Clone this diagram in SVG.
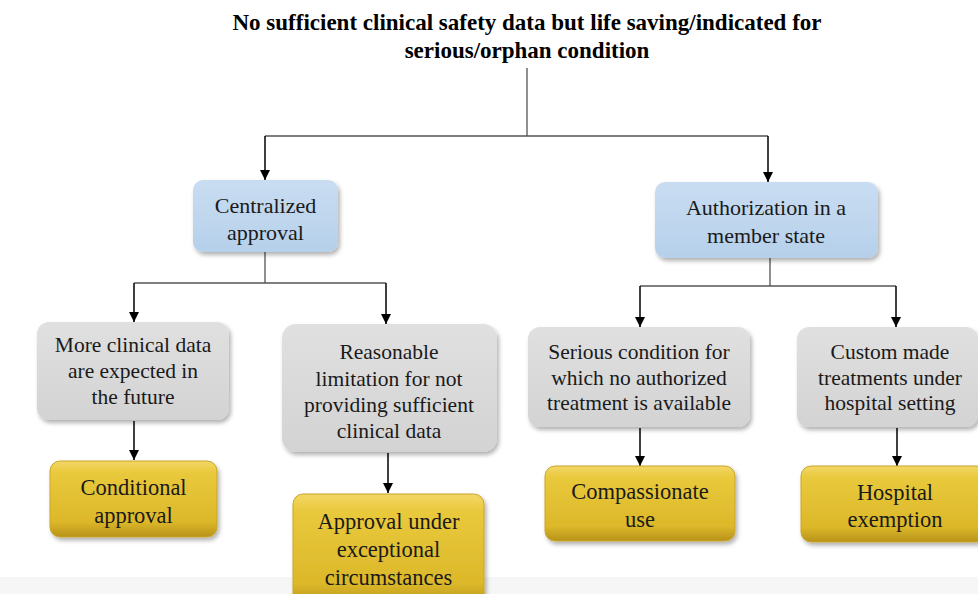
<svg xmlns="http://www.w3.org/2000/svg" width="978" height="594" viewBox="0 0 978 594">
<defs>
<filter id="sh" x="-10%" y="-10%" width="125%" height="130%">
<feDropShadow dx="2" dy="3" stdDeviation="2" flood-color="#000" flood-opacity="0.3"/>
</filter>
<linearGradient id="gBlue" x1="0" y1="0" x2="0" y2="1">
<stop offset="0" stop-color="#c9ddf2"/>
<stop offset="1" stop-color="#b6d0ea"/>
</linearGradient>
<linearGradient id="gGray" x1="0" y1="0" x2="0" y2="1">
<stop offset="0" stop-color="#e0e0e0"/>
<stop offset="1" stop-color="#d3d3d3"/>
</linearGradient>
<linearGradient id="gGold" x1="0" y1="0" x2="0" y2="1">
<stop offset="0" stop-color="#f3d767"/>
<stop offset="0.15" stop-color="#e9c93c"/>
<stop offset="0.8" stop-color="#dcb82a"/>
<stop offset="1" stop-color="#b8921a"/>
</linearGradient>
<marker id="arr" viewBox="0 0 10 10" refX="10" refY="5" markerWidth="10" markerHeight="10" markerUnits="userSpaceOnUse" orient="auto">
<path d="M0,0 L10,5 L0,10 z" fill="#000"/>
</marker>
</defs>
<style>
text{fill:#1a1a1a;text-anchor:middle;font-family:"Liberation Serif",serif}
.title{font-weight:bold;font-size:23px;fill:#000}
.blue{fill:url(#gBlue);filter:url(#sh)}
.gray{fill:url(#gGray);filter:url(#sh)}
.gold{fill:url(#gGold);stroke:#c9a52a;stroke-width:1;filter:url(#sh)}
.tb{font-size:22px}
.tg{font-size:21.5px}
.ty{font-size:22.5px}
.ln{stroke:#555;stroke-width:1.3;fill:none}
.ar{stroke:#000;stroke-width:1.5;fill:none;marker-end:url(#arr)}
</style>
<rect x="0" y="0" width="978" height="594" fill="#fff"/>
<rect x="0" y="577" width="978" height="17" fill="#f6f6f6"/>

<g id="title">
<text class="title" x="527" y="30" font-family="Liberation Serif">No sufficient clinical safety data but life saving/indicated for</text>
<text class="title" x="527" y="58" font-family="Liberation Serif">serious/orphan condition</text>
</g>

<g id="connectors">
<path class="ln" d="M527,68 V136 M265,136 H768"/>
<path class="ar" d="M265,136 V180"/>
<path class="ar" d="M768,136 V182"/>
<path class="ln" d="M265,252 V283 M134,283 H386"/>
<path class="ar" d="M134,283 V322"/>
<path class="ar" d="M386,283 V324"/>
<path class="ln" d="M770,258 V286 M640,286 H896"/>
<path class="ar" d="M640,286 V327"/>
<path class="ar" d="M896,286 V327"/>
<path class="ar" d="M134,421 V460"/>
<path class="ar" d="M388,453 V493"/>
<path class="ar" d="M640,428 V466"/>
<path class="ar" d="M897,428 V466"/>
</g>

<g id="centralized">
<rect class="blue" x="193" y="180" width="145" height="72" rx="10"/>
<text class="tb" x="265.5" y="213">Centralized</text>
<text class="tb" x="265.5" y="240">approval</text>
</g>

<g id="member-state">
<rect class="blue" x="655" y="182" width="223" height="76" rx="10"/>
<text class="tb" x="766" y="215">Authorization in a</text>
<text class="tb" x="766" y="243">member state</text>
</g>

<g id="more-data">
<rect class="gray" x="37" y="322" width="192" height="98" rx="12"/>
<text class="tg" x="133" y="352">More clinical data</text>
<text class="tg" x="133" y="378">are expected in</text>
<text class="tg" x="133" y="404">the future</text>
</g>

<g id="reasonable">
<rect class="gray" x="282" y="324" width="215" height="128" rx="14"/>
<text class="tg" x="389" y="359">Reasonable</text>
<text class="tg" x="389" y="386">limitation for not</text>
<text class="tg" x="389" y="412">providing sufficient</text>
<text class="tg" x="389" y="438">clinical data</text>
</g>

<g id="serious">
<rect class="gray" x="528" y="327" width="222" height="100" rx="12"/>
<text class="tg" x="639" y="359">Serious condition for</text>
<text class="tg" x="639" y="385">which no authorized</text>
<text class="tg" x="639" y="410">treatment is available</text>
</g>

<g id="custom">
<rect class="gray" x="797" y="327" width="181" height="100" rx="12"/>
<text class="tg" x="890" y="359">Custom made</text>
<text class="tg" x="890" y="385">treatments under</text>
<text class="tg" x="890" y="410">hospital setting</text>
</g>

<g id="conditional">
<rect class="gold" x="50" y="461" width="167" height="76" rx="10"/>
<text class="ty" x="133.5" y="495">Conditional</text>
<text class="ty" x="133.5" y="523">approval</text>
</g>

<g id="exceptional">
<rect class="gold" x="293" y="494" width="191" height="112" rx="10"/>
<text class="ty" x="388.5" y="529">Approval under</text>
<text class="ty" x="388.5" y="557">exceptional</text>
<text class="ty" x="388.5" y="585">circumstances</text>
</g>

<g id="compassionate">
<rect class="gold" x="545" y="466" width="190" height="75" rx="10"/>
<text class="ty" x="640" y="499">Compassionate</text>
<text class="ty" x="640" y="527">use</text>
</g>

<g id="hospital">
<rect class="gold" x="801" y="466" width="185" height="76" rx="10"/>
<text class="ty" x="895" y="500">Hospital</text>
<text class="ty" x="895" y="527">exemption</text>
</g>
</svg>
